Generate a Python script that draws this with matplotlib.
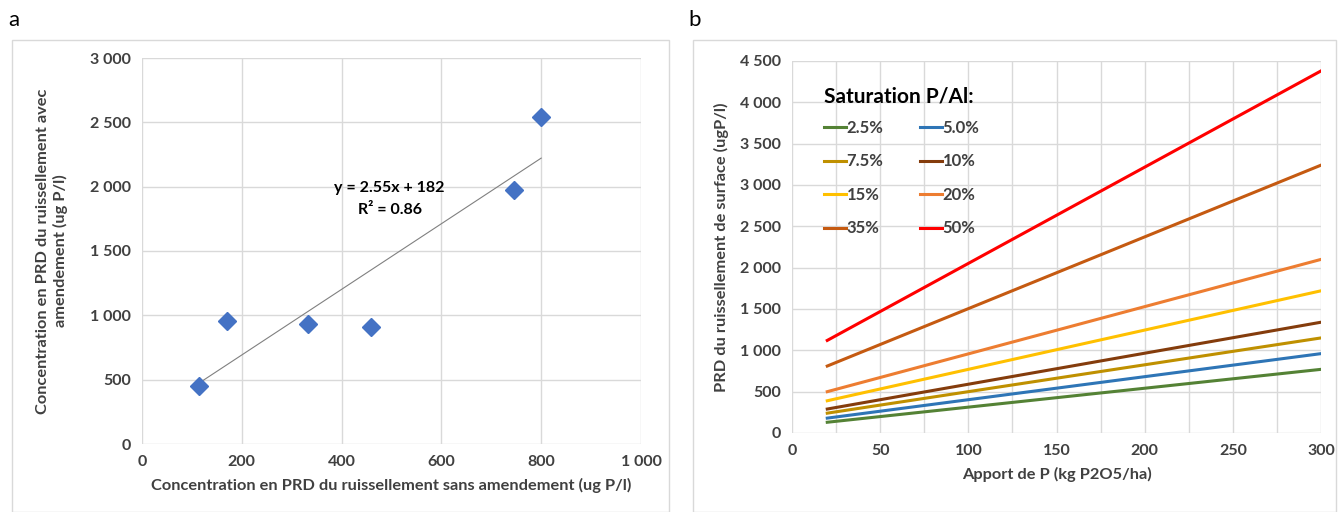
"""Two panels: PRD runoff with/without amendment, and PRD vs P input by saturation class."""
import matplotlib
matplotlib.use('Agg')
import matplotlib.pyplot as plt
import matplotlib.patches as patches
from matplotlib.ticker import FuncFormatter, MultipleLocator
import numpy as np

plt.rcParams['font.family'] = ['Lato', 'DejaVu Sans']

# panel a: scatter points
sans_amend = [115, 170, 332, 458, 745, 800]
avec_amend = [450, 955, 930, 910, 1975, 2540]
slope, intercept = 2.55, 182

# panel b: P input (kg P2O5/ha) and PRD at both ends of each line
apport = [20, 300]
sat_labels = ['2.5%', '5.0%', '7.5%', '10%', '15%', '20%', '35%', '50%']
prd_start = [130, 180, 240, 290, 390, 500, 810, 1120]
prd_end = [770, 960, 1150, 1340, 1720, 2100, 3240, 4380]
sat_colors = ['#548235', '#2E75B6', '#BF9000', '#843C0C',
              '#FFC000', '#ED7D31', '#C55A11', '#FF0000']

W, H = 1338, 512
TXT = '#404040'
GRID = '#D9D9D9'
TICK_FS = 11.5
LAB_FS = 11.8


def thousands(v, pos):
    return f'{int(v):,}'.replace(',', ' ')


def style_axes(ax):
    for s in ax.spines.values():
        s.set_visible(False)
    ax.grid(True, color=GRID, linewidth=1)
    ax.set_axisbelow(True)
    ax.tick_params(length=0, labelsize=TICK_FS, labelcolor=TXT, pad=8)
    for lab in ax.get_xticklabels() + ax.get_yticklabels():
        lab.set_fontweight('bold')
    ax.xaxis.set_major_formatter(FuncFormatter(thousands))
    ax.yaxis.set_major_formatter(FuncFormatter(thousands))


fig = plt.figure(figsize=(W / 100, H / 100), dpi=100)

# panel frames
for x0, x1 in [(12, 669), (693, 1336)]:
    fig.add_artist(patches.Rectangle((x0 / W, 0), (x1 - x0) / W, (H - 40) / H,
                                     transform=fig.transFigure, fill=False,
                                     edgecolor=GRID, linewidth=1))
fig.text(8 / W, 1 - 20 / H, 'a', fontsize=16, va='center', ha='left', color='black')
fig.text(688 / W, 1 - 20 / H, 'b', fontsize=16, va='center', ha='left', color='black')

# ---- panel a
ax1 = fig.add_axes([142 / W, 1 - 444 / H, 499 / W, 386 / H])
ax1.set_xlim(0, 1000)
ax1.set_ylim(0, 3000)
ax1.xaxis.set_major_locator(MultipleLocator(200))
ax1.yaxis.set_major_locator(MultipleLocator(500))
tx = np.array([min(sans_amend), max(sans_amend)])
ax1.plot(tx, slope * tx + intercept, color='#808080', linewidth=0.8)
ax1.plot(sans_amend, avec_amend, 'D', color='#4472C4', markersize=9.5,
         markeredgecolor='#4472C4', zorder=5)
ax1.text(496, 1990, f'y = {slope}x + {intercept}', ha='center', va='center',
         fontsize=TICK_FS, fontweight='bold', color='black')
ax1.text(496, 1815, 'R² = 0.86', ha='center', va='center',
         fontsize=TICK_FS, fontweight='bold', color='black')
ax1.set_xlabel('Concentration en PRD du ruissellement sans amendement (ug P/l)',
               fontsize=LAB_FS, fontweight='bold', color=TXT, labelpad=6)
ax1.set_ylabel('Concentration en PRD du ruissellement avec\namendement (ug P/l)',
               fontsize=LAB_FS, fontweight='bold', color=TXT, labelpad=16)
style_axes(ax1)

# ---- panel b
ax2 = fig.add_axes([792 / W, 1 - 433 / H, 529 / W, 372 / H])
ax2.set_xlim(0, 300)
ax2.set_ylim(0, 4500)
ax2.xaxis.set_major_locator(MultipleLocator(50))
ax2.xaxis.set_minor_locator(MultipleLocator(25))
ax2.yaxis.set_major_locator(MultipleLocator(500))
ax2.grid(True, which='minor', axis='x', color=GRID, linewidth=1)
handles = []
for lab, y0, y1, c in zip(sat_labels, prd_start, prd_end, sat_colors):
    h, = ax2.plot(apport, [y0, y1], color=c, linewidth=2.2, label=lab)
    handles.append(h)
ax2.set_xlabel('Apport de P (kg P2O5/ha)', fontsize=LAB_FS, fontweight='bold',
               color=TXT, labelpad=6)
ax2.set_ylabel('PRD du ruissellement de surface (ugP/l)', fontsize=LAB_FS,
               fontweight='bold', color=TXT, labelpad=8)
style_axes(ax2)
ax2.tick_params(which='minor', length=0)

# legend is filled column by column, so reorder to read row by row
order = [0, 2, 4, 6, 1, 3, 5, 7]
leg = ax2.legend([handles[i] for i in order], [sat_labels[i] for i in order],
                 ncol=2, loc='upper left', bbox_to_anchor=(0.045, 0.955),
                 frameon=False, title='Saturation P/Al:', alignment='left',
                 prop={'weight': 'bold', 'size': 12},
                 title_fontproperties={'weight': 'bold', 'size': 15},
                 handlelength=1.3, handletextpad=0.05, columnspacing=2.2,
                 labelspacing=1.05, borderpad=0)
leg._legend_box.sep = 10
for t in leg.get_texts():
    t.set_color(TXT)

fig.savefig('out.png', dpi=100, facecolor='white')
